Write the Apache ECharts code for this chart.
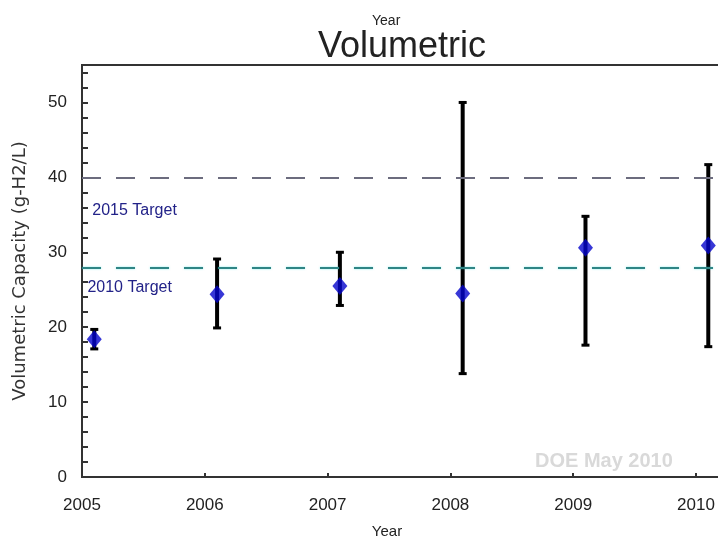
<!DOCTYPE html>
<html>
<head>
<meta charset="utf-8">
<script src="https://cdn.jsdelivr.net/npm/echarts@6/dist/echarts.min.js"></script>
<style>html,body{margin:0;padding:0;background:#fff;}#c{width:718px;height:541px;}</style>
</head>
<body>
<div id="c"></div>
<script>
// ---- data ----
const years = [2005.1, 2006.1, 2007.1, 2008.1, 2009.1, 2010.1];
const meanValues = [18.4, 24.4, 25.5, 24.5, 30.6, 30.9];
const highValues = [19.7, 29.1, 30.0, 50.0, 34.8, 41.7];
const lowValues  = [17.1, 19.9, 22.9, 13.8, 17.6, 17.4];
const target2015 = 40;
const target2010 = 28;
const targetLabels = [[2005.08, 35.6, '2015 Target'], [2005.04, 25.3, '2010 Target']];
const xTickYears = [2005, 2006, 2007, 2008, 2009, 2010];
const yTicks = [0, 10, 20, 30, 40, 50];

const chart = echarts.init(document.getElementById('c'), null, {renderer: 'canvas'});

const errorData = years.map((x, i) => [x, lowValues[i], highValues[i]]);
const pointData = years.map((x, i) => [x, meanValues[i]]);

const font = 'Liberation Sans, Arial, sans-serif';

chart.setOption({
  animation: false,
  backgroundColor: '#fff',
  title: [
    {text: 'Year', left: 367, top: 9, textStyle: {fontSize: 14, fontWeight: 'normal', color: '#222', fontFamily: font}},
    {text: 'Volumetric', left: 313, top: 24, textStyle: {fontSize: 36, fontWeight: 'normal', color: '#222', fontFamily: font}}
  ],
  graphic: [
    {type: 'text', left: 535, top: 451, silent: true,
     style: {text: 'DOE May 2010', fill: '#d9d9d9', font: 'bold 20px Liberation Sans, Arial, sans-serif'}}
  ],
  grid: {left: 82, right: -20, top: 65, bottom: 64, show: true, borderColor: '#333', borderWidth: 2,
         backgroundColor: '#fff', containLabel: false, outerBoundsMode: 'none'},
  xAxis: {
    type: 'value', min: 2005, max: 2010.342, interval: 1,
    name: 'Year', nameLocation: 'middle', nameGap: 47,
    nameTextStyle: {fontSize: 15, color: '#222', fontFamily: font, padding: [0, 46, 0, 0]},
    axisLine: {show: true, lineStyle: {color: '#333', width: 2}},
    axisTick: {show: true, inside: true, length: 4, lineStyle: {color: '#333', width: 2}},
    axisLabel: {margin: 20, fontSize: 17, color: '#222', fontFamily: font, hideOverlap: false,
      formatter: v => xTickYears.includes(Math.round(v * 1000) / 1000) ? String(v) : ''},
    splitLine: {show: false}
  },
  yAxis: {
    type: 'value', min: 0, max: 55, interval: 10,
    name: 'Volumetric Capacity (g-H2/L)', nameLocation: 'middle', nameGap: 53,
    nameTextStyle: {fontSize: 18, color: '#333', fontFamily: 'DejaVu Sans, sans-serif'},
    axisLine: {show: true, lineStyle: {color: '#333', width: 2}},
    axisTick: {show: true, inside: true, length: 6, lineStyle: {color: '#333', width: 2}},
    minorTick: {show: true, splitNumber: 5, length: 6, lineStyle: {color: '#333', width: 2}},
    axisLabel: {margin: 15, fontSize: 17, color: '#222', fontFamily: font,
      formatter: v => yTicks.includes(v) ? String(v) : ''},
    splitLine: {show: false}
  },
  series: [
    {
      type: 'custom',
      name: 'range',
      data: errorData,
      encode: {x: 0, y: [1, 2]},
      renderItem: function (params, api) {
        const x = api.value(0);
        const lo = api.coord([x, api.value(1)]);
        const hi = api.coord([x, api.value(2)]);
        const cw = 4;
        return {
          type: 'group',
          children: [
            {type: 'line', shape: {x1: lo[0], y1: lo[1], x2: hi[0], y2: hi[1]}, style: {stroke: '#000', lineWidth: 4}},
            {type: 'line', shape: {x1: hi[0] - cw, y1: hi[1], x2: hi[0] + cw, y2: hi[1]}, style: {stroke: '#000', lineWidth: 3}},
            {type: 'line', shape: {x1: lo[0] - cw, y1: lo[1], x2: lo[0] + cw, y2: lo[1]}, style: {stroke: '#000', lineWidth: 3}}
          ]
        };
      },
      z: 2
    },
    {
      type: 'scatter',
      name: 'mean',
      data: pointData,
      symbol: 'diamond',
      symbolSize: [15, 18],
      itemStyle: {color: '#0505cc'},
      z: 3,
      markLine: {
        silent: true,
        symbol: ['none', 'none'],
        label: {show: false},
        data: [
          {yAxis: target2015, lineStyle: {color: '#6c6c7e', width: 2, type: [19, 15]}},
          {yAxis: target2010, lineStyle: {color: '#2f8585', width: 2, type: [19, 15], shadowColor: 'rgba(0,220,220,0.5)', shadowBlur: 2}}
        ]
      }
    },
    {
      type: 'scatter',
      name: 'labels',
      data: targetLabels,
      symbol: 'circle',
      symbolSize: 1,
      itemStyle: {color: 'rgba(0,0,0,0)', opacity: 1},
      silent: true,
      label: {
        show: true, position: 'right', distance: 0, fontSize: 16, fontFamily: font,
        formatter: p => p.data[2],
        color: '#222288', opacity: 1
      },
      z: 4
    }
  ]
});
</script>
</body>
</html>
